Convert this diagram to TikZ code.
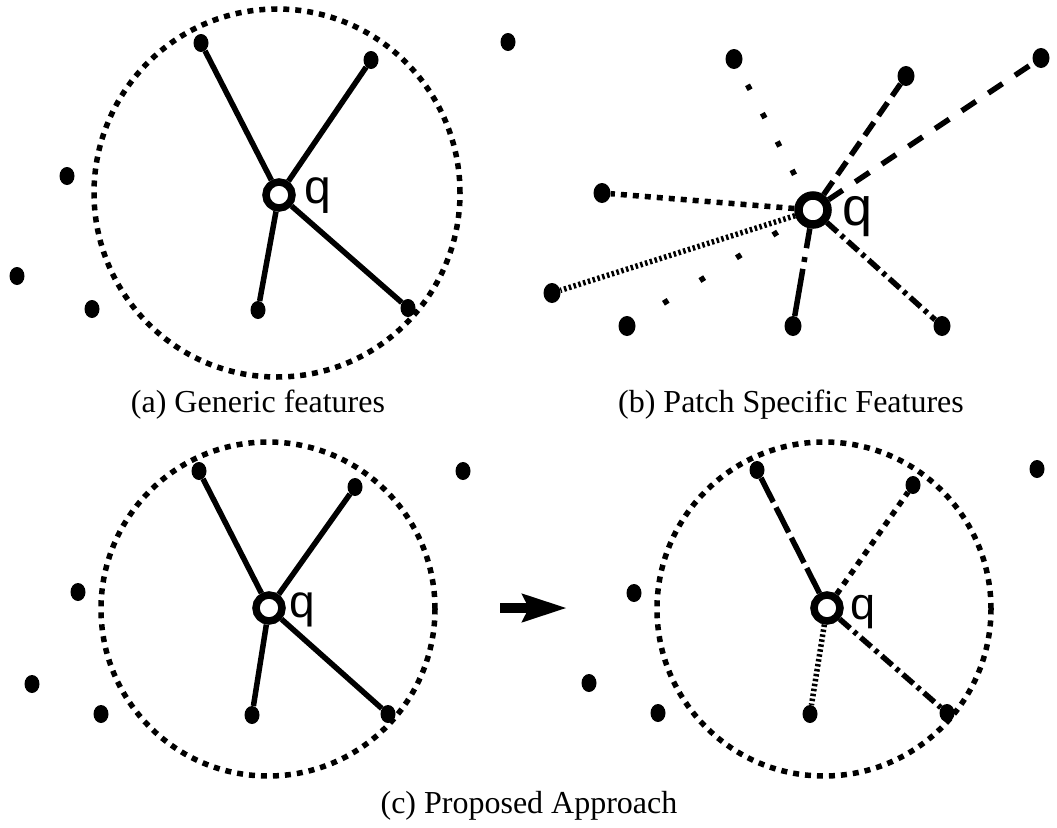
\documentclass[tikz,border=0pt]{standalone}
\usepackage{fontspec}
\setmainfont{Liberation Serif}
\newfontfamily\qfont{Liberation Sans}
\usetikzlibrary{arrows.meta,shapes.geometric}

\begin{document}
\begin{tikzpicture}[
    x=1pt,y=-1pt,>=Stealth,
    leaf/.style={ellipse,fill,inner sep=0pt,minimum width=15pt,minimum height=18pt},
    leafb/.style={leaf,minimum width=17pt,minimum height=20pt},
    Q/.style={circle,draw,fill=white,line width=7.5pt,inner sep=0pt,minimum size=26pt},
    Qb/.style={Q,line width=8.5pt,minimum size=29pt},
    qlabel/.style={inner sep=0pt,font=\qfont\fontsize{#1}{#1}\selectfont},
    caption/.style={inner sep=0pt,font=\fontsize{32}{36}\selectfont},
    link/.style={line width=5.5pt},
    rim/.style={line width=5.5pt,dash pattern=on 6pt off 6pt},
    eSparse/.style={link,dash pattern=on 5.5pt off 26.5pt,dash phase=11pt},
    eSparser/.style={link,dash pattern=on 5.5pt off 37.5pt,dash phase=20pt},
    eSquares/.style={link,dash pattern=on 6pt off 6pt},
    eFine/.style={link,dash pattern=on 2.5pt off 2.5pt},
    eShort/.style={link,dash pattern=on 16pt off 8pt},
    eLong/.style={link,dash pattern=on 17pt off 15pt},
    eLonger/.style={link,dash pattern=on 28pt off 6pt},
    eDashdot/.style={link,dash pattern=on 14pt off 5pt on 4pt off 5pt},
    ]
    \useasboundingbox (0,0) rectangle (1057,827);

    % (a) generic features
    \draw[rim] (277,193) ellipse [x radius=183pt,y radius=184pt];
    \node[Q] (qa) at (279,195) {};
    \node[qlabel=48] (la) at (318,196) {q};
    \node[leaf] (a1) at (201,43) {};
    \node[leaf] (a2) at (371,60) {};
    \node[leaf] (a3) at (67,176) {};
    \node[leaf] (a4) at (17,276) {};
    \node[leaf] (a5) at (92,309) {};
    \node[leaf] (a6) at (258,310) {};
    \node[leaf] (a7) at (408,308) {};
    \node[leaf] (a8) at (508,42) {};
    \path (qa)
        edge[link] (a1)
        edge[link] (a2)
        edge[link] (a6)
        edge[link] (a7)
        ;
    \node[caption] (capa) at (258,405) {(a) Generic features};

    % (b) patch specific features
    \node[Qb] (qb) at (813,210) {};
    \node[qlabel=54] (lb) at (858,217) {q};
    \node[leafb] (b1) at (734,59) {};
    \node[leafb] (b2) at (906,76) {};
    \node[leafb] (b3) at (1041,58) {};
    \node[leafb] (b4) at (602,193) {};
    \node[leafb] (b5) at (552,293) {};
    \node[leafb] (b6) at (627,326) {};
    \node[leafb] (b7) at (793,326) {};
    \node[leafb] (b8) at (942,326) {};
    \path (qb)
        edge[eSparse] (b1)
        edge[eShort] (b2)
        edge[eLong] (b3)
        edge[eSquares] (b4)
        edge[eFine] (b5)
        edge[eSparser] (b6)
        edge[link,dash pattern=on 20pt off 9pt on 5pt off 7pt on 80pt off 1pt] (b7)
        edge[eDashdot] (b8)
        ;
    \node[caption] (capb) at (791,405) {(b) Patch Specific Features};

    % (c) proposed approach, before
    \draw[rim] (268,609) circle [radius=167pt];
    \node[Q] (qc) at (269,608) {};
    \node[qlabel=46] (lc) at (302,610) {q};
    \node[leaf] (c1) at (199,471) {};
    \node[leaf] (c2) at (355,487) {};
    \node[leaf] (c3) at (78,592) {};
    \node[leaf] (c4) at (32,684) {};
    \node[leaf] (c5) at (101,714) {};
    \node[leaf] (c6) at (252,715) {};
    \node[leaf] (c7) at (388,714) {};
    \node[leaf] (c8) at (463,471) {};
    \path (qc)
        edge[link] (c1)
        edge[link] (c2)
        edge[link] (c6)
        edge[link] (c7)
        ;

    % arrow
    \coordinate (arS) at (500,608);
    \coordinate (arE) at (567,608);
    \draw[line width=10pt,-{Stealth[length=44pt,width=27pt,inset=6pt]}] (arS) -- (arE);

    % (c) proposed approach, after
    \draw[rim] (824,609) circle [radius=167pt];
    \node[Q] (qd) at (827,608) {};
    \node[qlabel=45] (ld) at (863,612) {q};
    \node[leaf] (d1) at (757,470) {};
    \node[leaf] (d2) at (913,485) {};
    \node[leaf] (d3) at (634,593) {};
    \node[leaf] (d4) at (589,683) {};
    \node[leaf] (d5) at (658,713) {};
    \node[leaf] (d6) at (810,714) {};
    \node[leaf] (d7) at (947,713) {};
    \node[leaf] (d8) at (1037,469) {};
    \path (qd)
        edge[eLonger] (d1)
        edge[eSquares] (d2)
        edge[eFine] (d6)
        edge[eDashdot] (d7)
        ;
    \node[caption] (capc) at (529,806) {(c) Proposed Approach};
\end{tikzpicture}
\end{document}
